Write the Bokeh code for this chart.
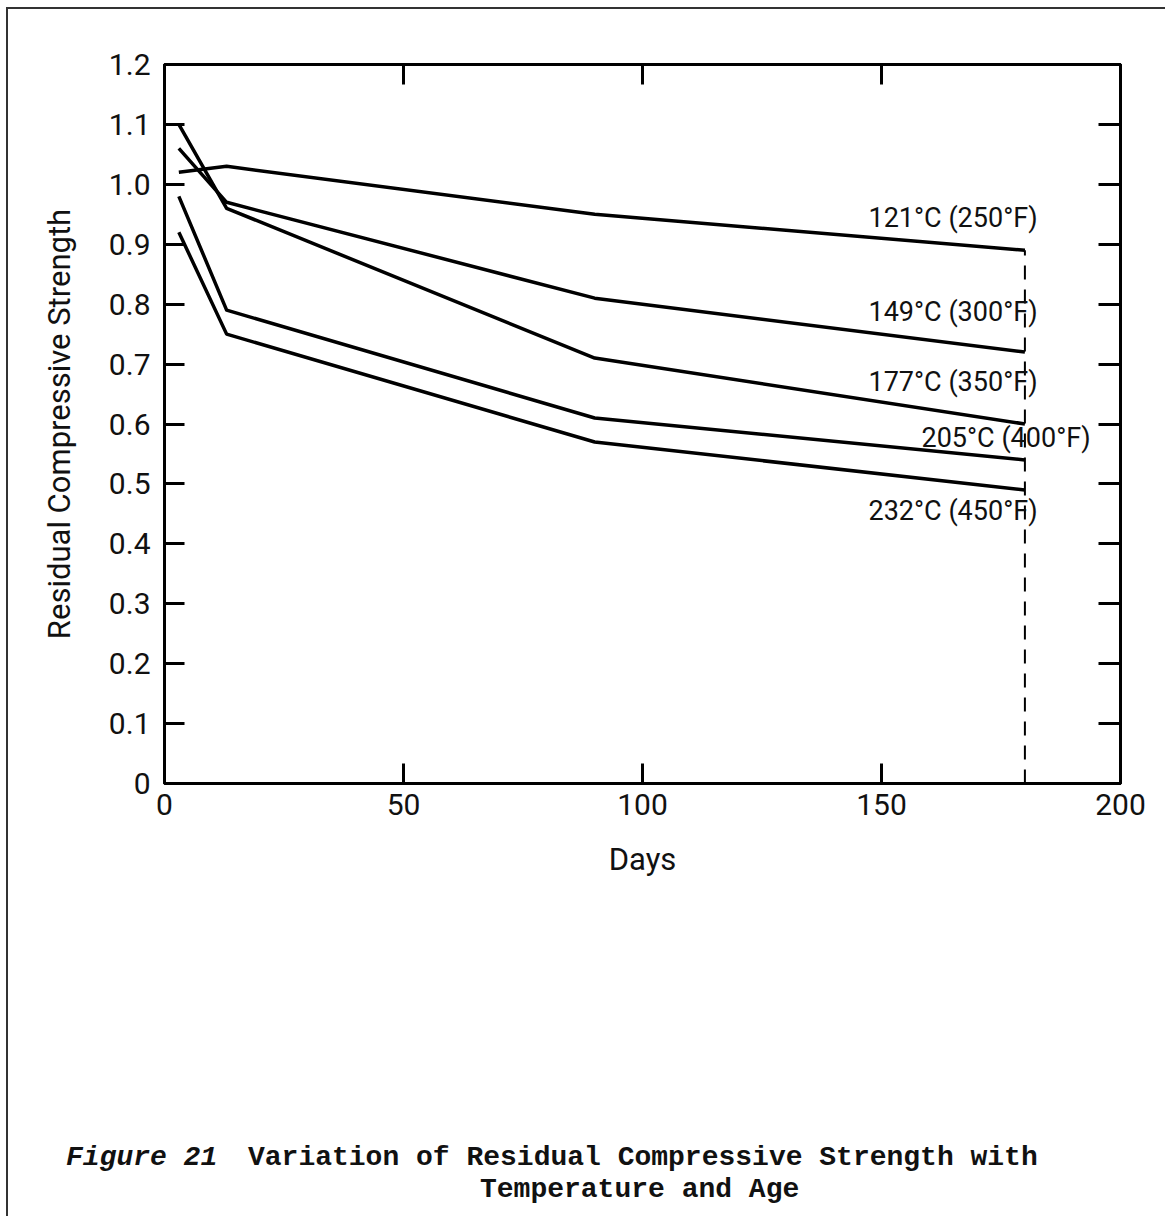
from bokeh.plotting import figure
from bokeh.layouts import column
from bokeh.models import Range1d, LinearAxis, Label, FixedTicker, CustomJSTickFormatter, Div
from bokeh.embed import file_html
from bokeh.resources import INLINE

# Exposure age in days and residual strength ratio for each temperature
days = [3, 13, 90, 180]
strength_121 = [1.02, 1.03, 0.95, 0.89]
strength_149 = [1.06, 0.97, 0.81, 0.72]
strength_177 = [1.10, 0.96, 0.71, 0.60]
strength_205 = [0.98, 0.79, 0.61, 0.54]
strength_232 = [0.92, 0.75, 0.57, 0.49]

series_labels = ["121°C (250°F)", "149°C (300°F)", "177°C (350°F)",
                 "205°C (400°F)", "232°C (450°F)"]

y_ticks = [0, 0.1, 0.2, 0.3, 0.4, 0.5, 0.6, 0.7, 0.8, 0.9, 1.0, 1.1, 1.2]
x_ticks = [0, 50, 100, 150, 200]

caption_lines = ["Figure 21", "Variation of Residual Compressive Strength with",
                 "Temperature and Age"]

FONT = "Roboto"
MONO = "Liberation Mono"
INK = "#111111"

PAGE_W, PAGE_H = 1165, 1216
W = 1157
X0, X1, Y0, Y1 = 0, 200, 0, 1.2
# canvas origin on the page (margin + border) and frame box in page pixels
OX, OY = 8, 9
FL, FR, FT, FB = 164, 1120, 64, 783
SPLIT = 900  # page row where the caption panel starts

p = figure(width=W, height=SPLIT - OY,
           x_range=Range1d(X0, X1), y_range=Range1d(Y0, Y1),
           output_backend="svg", toolbar_location=None,
           x_axis_location=None, y_axis_location=None,
           min_border_left=FL - OX, min_border_right=(OX + W) - FR,
           min_border_top=FT - OY, min_border_bottom=SPLIT - FB)
p.background_fill_color = "white"
p.border_fill_color = "white"
p.outline_line_color = "black"
p.outline_line_width = 3
p.grid.grid_line_color = None


def to_x(px):
    return X0 + (px - FL) * (X1 - X0) / (FR - FL)


def to_y(py):
    return Y0 + (FB - py) * (Y1 - Y0) / (FB - FT)


def style_axis(ax, tick_len, show_labels):
    ax.major_tick_in = tick_len
    ax.major_tick_out = 0
    ax.minor_tick_line_color = None
    ax.axis_line_width = 3
    ax.axis_line_color = "black"
    ax.major_tick_line_width = 3
    ax.major_tick_line_color = "black"
    ax.major_label_text_font = FONT
    ax.major_label_text_font_size = "30px"
    ax.major_label_text_color = INK if show_labels else None
    ax.axis_label_text_font = FONT
    ax.axis_label_text_font_size = "31px"
    ax.axis_label_text_font_style = "normal"
    ax.axis_label_text_color = INK


yfmt = CustomJSTickFormatter(code="return tick == 0 ? '0' : tick.toFixed(1);")

left = LinearAxis(ticker=FixedTicker(ticks=y_ticks), formatter=yfmt,
                  axis_label="Residual Compressive Strength")
style_axis(left, 20, True)
left.major_label_standoff = 14
left.axis_label_standoff = 28
p.add_layout(left, "left")

right = LinearAxis(ticker=FixedTicker(ticks=y_ticks), formatter=yfmt)
style_axis(right, 22, False)
right.major_label_text_font_size = "0px"
p.add_layout(right, "right")

bottom = LinearAxis(ticker=FixedTicker(ticks=x_ticks), axis_label="Days")
style_axis(bottom, 20, True)
bottom.major_label_standoff = 10
bottom.axis_label_standoff = 23
p.add_layout(bottom, "below")

top = LinearAxis(ticker=FixedTicker(ticks=x_ticks))
style_axis(top, 20, False)
top.major_label_text_font_size = "0px"
p.add_layout(top, "above")

# strength curves
for ys in (strength_121, strength_149, strength_177, strength_205, strength_232):
    p.line(days, ys, line_color="black", line_width=3.5, line_join="round")

# dashed marker at the final age
p.line([days[-1], days[-1]], [0, strength_121[-1]], line_color="black",
       line_width=2, line_dash="14 10")

# curve labels
label_pos = [(868, 217), (868, 311), (868, 381), (921, 437), (868, 510)]
for txt, (lx, ly) in zip(series_labels, label_pos):
    p.add_layout(Label(x=to_x(lx), y=to_y(ly), text=txt, text_font=FONT,
                       text_font_size="27px", text_color=INK,
                       text_baseline="middle", text_align="left"))

# caption block under the chart (positions in pixels within the block)
LINE_H = 32


def span(text, left_px, center_py, italic=False):
    top_px = center_py - SPLIT - LINE_H // 2 + 2
    style = f"position:absolute;left:{left_px - OX}px;top:{top_px}px;white-space:pre;"
    if italic:
        style += "font-style:italic;"
    return f'<span style="{style}">{text}</span>'


caption_html = (
    f'<div style="position:relative;width:{W}px;height:{PAGE_H - SPLIT}px;'
    f"font-family:'{MONO}',monospace;font-weight:bold;font-size:28px;"
    f'line-height:{LINE_H}px;color:{INK};">'
    + span(caption_lines[0], 66, 1156, italic=True)
    + span(caption_lines[1], 248, 1156)
    + span(caption_lines[2], 480, 1188)
    + "</div>"
)
cap = Div(text=caption_html, width=W, height=PAGE_H - SPLIT, margin=0)

page = column(p, cap, spacing=0, margin=(7, 0, 0, 6),
              styles={"border-left": "2px solid #333333",
                      "border-top": "2px solid #333333"})

open("out.html", "w").write(file_html(page, INLINE))
